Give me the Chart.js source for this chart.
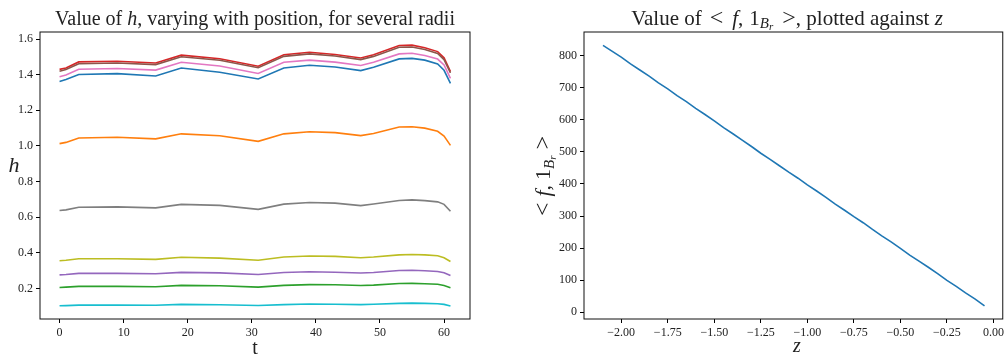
<!DOCTYPE html>
<html>
<head>
<meta charset="utf-8">
<script src="https://cdn.jsdelivr.net/npm/chart.js@4.4.1/dist/chart.umd.min.js"></script>
<style>
  html, body { margin: 0; padding: 0; background: #fff; }
  #wrap { position: relative; width: 1007px; height: 356px; overflow: hidden; }
  canvas { position: absolute; top: 0; }
</style>
</head>
<body>
<div id="wrap">
  <canvas id="valorH" width="480" height="356" style="left:0"></canvas>
  <canvas id="valorF" width="507" height="356" style="left:500px"></canvas>
</div>
<script>
// Dados do grafico da esquerda (h em funcao de t, um array por raio)
const tPos = [0, 1, 3, 9, 15, 19, 25, 31, 35, 39, 43, 47, 49, 53, 55, 57, 59, 60, 61];
const h0 = [1.362, 1.373, 1.401, 1.406, 1.393, 1.438, 1.414, 1.376, 1.438, 1.453, 1.443, 1.423, 1.442, 1.489, 1.492, 1.482, 1.460, 1.425, 1.352];
const h1 = [1.013, 1.020, 1.045, 1.049, 1.040, 1.068, 1.057, 1.026, 1.068, 1.080, 1.075, 1.058, 1.070, 1.106, 1.108, 1.100, 1.082, 1.055, 1.003];
const h2 = [0.205, 0.207, 0.211, 0.211, 0.209, 0.217, 0.215, 0.207, 0.217, 0.221, 0.220, 0.216, 0.218, 0.227, 0.228, 0.226, 0.223, 0.216, 0.204];
const h3 = [1.430, 1.438, 1.472, 1.476, 1.466, 1.510, 1.490, 1.448, 1.512, 1.526, 1.514, 1.494, 1.512, 1.564, 1.566, 1.552, 1.530, 1.495, 1.418];
const h4 = [0.276, 0.278, 0.284, 0.284, 0.282, 0.290, 0.287, 0.278, 0.289, 0.293, 0.291, 0.286, 0.289, 0.300, 0.302, 0.299, 0.295, 0.288, 0.272];
const h5 = [1.420, 1.429, 1.462, 1.466, 1.457, 1.501, 1.481, 1.439, 1.503, 1.517, 1.505, 1.485, 1.503, 1.554, 1.556, 1.542, 1.520, 1.485, 1.410];
const h6 = [1.389, 1.398, 1.431, 1.435, 1.426, 1.470, 1.449, 1.407, 1.470, 1.482, 1.471, 1.452, 1.470, 1.517, 1.521, 1.508, 1.488, 1.455, 1.380];
const h7 = [0.637, 0.641, 0.656, 0.658, 0.652, 0.672, 0.666, 0.644, 0.673, 0.682, 0.679, 0.665, 0.674, 0.694, 0.697, 0.693, 0.686, 0.672, 0.633];
const h8 = [0.355, 0.358, 0.366, 0.366, 0.363, 0.375, 0.370, 0.358, 0.376, 0.382, 0.380, 0.372, 0.376, 0.388, 0.390, 0.388, 0.383, 0.372, 0.351];
const h9 = [0.102, 0.103, 0.106, 0.106, 0.105, 0.110, 0.108, 0.104, 0.109, 0.112, 0.111, 0.109, 0.111, 0.116, 0.117, 0.116, 0.114, 0.110, 0.101];
const hTicksX = [0, 10, 20, 30, 40, 50, 60];
const hTicksY = [0.2, 0.4, 0.6, 0.8, 1.0, 1.2, 1.4, 1.6];

// Dados do grafico da direita (<f, 1_Br> contra z)
const zPos = [-2.098, -2.05, -2.0, -1.95, -1.9, -1.85, -1.8, -1.75, -1.7, -1.65, -1.6, -1.55, -1.5, -1.45, -1.4, -1.35, -1.3, -1.25, -1.2, -1.15, -1.1, -1.05,
  -1.0, -0.95, -0.9, -0.85, -0.8, -0.75, -0.7, -0.65, -0.6, -0.55, -0.5, -0.45, -0.4, -0.35, -0.3, -0.25, -0.2, -0.15, -0.1, -0.048];
const fVal = [833, 815, 796, 775, 756, 737, 716, 697, 676, 657, 636, 617, 597, 576, 557, 537, 517, 496, 477, 457, 437, 418,
  397, 378, 358, 337, 318, 298, 279, 258, 238, 219, 199, 178, 159, 140, 120, 99, 80, 60, 41, 19];
const fTicksX = [-2.0, -1.75, -1.5, -1.25, -1.0, -0.75, -0.5, -0.25, 0.0];
const fTicksY = [0, 100, 200, 300, 400, 500, 600, 700, 800];

const cores = ['#1f77b4', '#ff7f0e', '#2ca02c', '#d62728', '#9467bd', '#8c564b', '#e377c2', '#7f7f7f', '#bcbd22', '#17becf'];
const serif = '"Liberation Serif", "DejaVu Serif", serif';

// escreve texto com partes em fontes diferentes (italico, subscrito); p[3] = espaco extra depois
function textoRico(ctx, partes, x, y) {
  let total = 0;
  partes.forEach(p => { ctx.font = p[1]; total += ctx.measureText(p[0]).width + (p[3] || 0); });
  let cx = x - total / 2;
  ctx.textAlign = 'left';
  ctx.textBaseline = 'alphabetic';
  partes.forEach(p => {
    ctx.font = p[1];
    ctx.fillText(p[0], cx, y + (p[2] || 0));
    cx += ctx.measureText(p[0]).width + (p[3] || 0);
  });
}

function eixo(min, max, ticks, formato, ehX, tamanho) {
  return {
    type: 'linear',
    min: min,
    max: max,
    afterBuildTicks: s => { s.ticks = ticks.map(v => ({ value: v })); },
    afterFit: s => { if (ehX) s.height = tamanho; else s.width = tamanho; },
    grid: { display: true, drawOnChartArea: false, drawTicks: true, tickLength: 4, color: '#000', lineWidth: 1 },
    border: { display: false },
    ticks: {
      font: { family: serif, size: 12 },
      color: '#222',
      padding: 3,
      autoSkip: false,
      maxRotation: 0,
      callback: formato
    }
  };
}

function caixa(chart) {
  const a = chart.chartArea;
  const ctx = chart.ctx;
  ctx.save();
  ctx.strokeStyle = '#111';
  ctx.lineWidth = 1;
  ctx.strokeRect(a.left, a.top, a.right - a.left, a.bottom - a.top);
  ctx.restore();
}

const serieH = [h0, h1, h2, h3, h4, h5, h6, h7, h8, h9];

const configH = {
  type: 'line',
  data: {
    datasets: serieH.map((s, i) => ({
      data: s.map((v, k) => ({ x: tPos[k], y: v })),
      borderColor: cores[i],
      borderWidth: 1.6,
      pointRadius: 0,
      tension: 0,
      fill: false,
      order: 10 - i
    }))
  },
  options: {
    responsive: false,
    animation: false,
    devicePixelRatio: 1,
    layout: { padding: { top: 32, right: 10, left: 0, bottom: 0 } },
    plugins: { legend: { display: false }, tooltip: { enabled: false } },
    scales: {
      x: eixo(-3.05, 64.05, hTicksX, v => String(v), true, 37),
      y: eixo(0.028, 1.64, hTicksY, v => v.toFixed(1), false, 40)
    }
  },
  plugins: [{
    id: 'textosH',
    afterDraw(chart) {
      caixa(chart);
      const ctx = chart.ctx;
      ctx.save();
      ctx.fillStyle = '#222';
      textoRico(ctx, [
        ['Value of ', '20px ' + serif],
        ['h', 'italic 20px ' + serif],
        [', varying with position, for several radii', '20px ' + serif]
      ], 255, 25);
      textoRico(ctx, [['h', 'italic 22px ' + serif]], 14, 172);
      textoRico(ctx, [['t', '20px ' + serif]], 255, 354);
      ctx.restore();
    }
  }]
};

const configF = {
  type: 'line',
  data: {
    datasets: [{
      data: fVal.map((v, k) => ({ x: zPos[k], y: v })),
      borderColor: cores[0],
      borderWidth: 1.6,
      pointRadius: 0,
      tension: 0,
      fill: false
    }]
  },
  options: {
    responsive: false,
    animation: false,
    devicePixelRatio: 1,
    layout: { padding: { top: 32, right: 2, left: 0, bottom: 0 } },
    plugins: { legend: { display: false }, tooltip: { enabled: false } },
    scales: {
      x: eixo(-2.2, 0.05, fTicksX, v => (v < 0 ? '\u2212' : '') + Math.abs(v).toFixed(2), true, 37),
      y: eixo(-21.7, 874.7, fTicksY, v => String(v), false, 84)
    }
  },
  plugins: [{
    id: 'textosF',
    afterDraw(chart) {
      caixa(chart);
      const ctx = chart.ctx;
      ctx.save();
      ctx.fillStyle = '#222';
      textoRico(ctx, [
        ['Value of', '21px ' + serif, 0, 8],
        ['<', '24px ' + serif, 0, 9],
        ['f', 'italic 21px ' + serif],
        [',', '21px ' + serif, 0, 6],
        ['1', '21px ' + serif],
        ['B', 'italic 15px ' + serif, 3],
        ['r', 'italic 11px ' + serif, 5, 9],
        ['>', '24px ' + serif],
        [', plotted against ', '21px ' + serif],
        ['z', 'italic 21px ' + serif]
      ], 287, 25);
      // rotulo vertical
      ctx.save();
      ctx.translate(42, 176);
      ctx.rotate(-Math.PI / 2);
      textoRico(ctx, [
        ['<', '24px ' + serif, 0, 6],
        ['f', 'italic 22px ' + serif],
        [',', '22px ' + serif, 0, 5],
        ['1', '22px ' + serif],
        ['B', 'italic 15px ' + serif, 4],
        ['r', 'italic 11px ' + serif, 6, 6],
        ['>', '24px ' + serif]
      ], 0, 8);
      ctx.restore();
      textoRico(ctx, [['z', 'italic 20px ' + serif]], 297, 352);
      ctx.restore();
    }
  }]
};

const ctx = document.getElementById('valorH');
const ctx2 = document.getElementById('valorF');

if (ctx) {
  new Chart(ctx, configH);
}
if (ctx2) {
  new Chart(ctx2, configF);
}
</script>
</body>
</html>
